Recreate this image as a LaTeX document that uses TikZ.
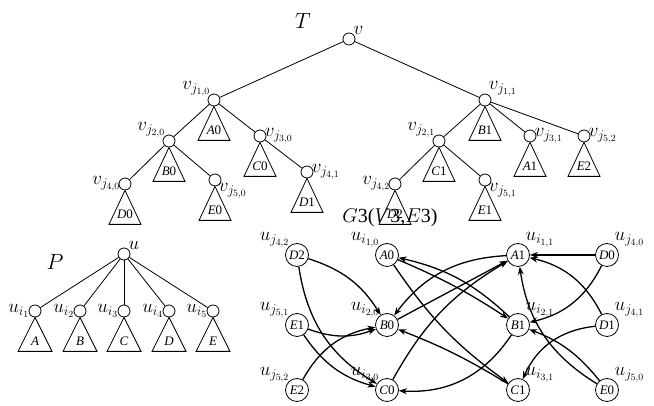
\documentclass[tikz,border=0pt]{standalone}
\usepackage{fix-cm}
\usepackage{fontspec}
\setmainfont{Liberation Serif}
\usetikzlibrary{arrows.meta,calc}

% small subtree under a tree vertex
\newcommand\subtri[3]{%
  \draw (#1.south) -- ++(-#3,-34) -- ++(2*#3,0) -- cycle;
  \node[font=\fontsize{13}{13}\selectfont] at ($(#1.south)+(0,-24)$) {#2};}

\begin{document}
\begin{tikzpicture}
  [
    x=1pt, y=1pt,
    vert/.style={circle, draw, thick, minimum size=12pt, inner sep=0pt},
    gvert/.style={circle, draw, thick, minimum size=23pt, inner sep=0pt, font=\fontsize{13}{13}\selectfont},
    every label/.style={font=\fontsize{19}{19}\selectfont, inner sep=1pt},
    arc/.style={-{Stealth[length=8pt,width=6pt]}, line width=1.3pt}
  ]
  \useasboundingbox (0,0) rectangle (654,406);
  \tikzset{every path/.style={thick}}
  % tree T
  \node[font=\fontsize{22}{22}\selectfont] at (303,385) {$T$};
  \node[vert, label={[label distance=-2pt]above right:$v$}] (v) at (349,367) {};
  \node[vert, label={[label distance=-3pt]above left:$v_{j_{1,0}}$}] (vj10) at (214,306) {};
  \node[vert, label={[label distance=-3pt]above right:$v_{j_{1,1}}$}] (vj11) at (485,306) {};
  \node[vert, label={[label distance=-3pt]above left:$v_{j_{2,0}}$}] (vj20) at (169,265) {};
  \node[vert, label={[label distance=-3pt]right:$v_{j_{3,0}}$}] (vj30) at (260,270) {};
  \node[vert, label={[label distance=-3pt]above left:$v_{j_{2,1}}$}] (vj21) at (439,265) {};
  \node[vert, label={[label distance=-3pt]right:$v_{j_{3,1}}$}] (vj31) at (530,270) {};
  \node[vert, label={[label distance=-3pt]right:$v_{j_{5,2}}$}] (vj52) at (584,270) {};
  \node[vert, label={[label distance=-3pt]left:$v_{j_{4,0}}$}] (vj40) at (125,222) {};
  \node[vert, label={[label distance=-3pt]below right:$v_{j_{5,0}}$}] (vj50) at (215,226) {};
  \node[vert, label={[label distance=-3pt]right:$v_{j_{4,1}}$}] (vj41) at (307,234) {};
  \node[vert, label={[label distance=-3pt]left:$v_{j_{4,2}}$}] (vj42) at (395,222) {};
  \node[vert, label={[label distance=-3pt]below right:$v_{j_{5,1}}$}] (vj51) at (485,226) {};
  \foreach \a/\b in {v/vj10, v/vj11, vj10/vj20, vj10/vj30, vj20/vj40, vj20/vj50,
                     vj30/vj41, vj11/vj21, vj11/vj31, vj11/vj52, vj21/vj42, vj21/vj51}
    \draw (\a) -- (\b);
  \subtri{vj10}{\textit{A}0}{16}
  \subtri{vj20}{\textit{B}0}{16}
  \subtri{vj30}{\textit{C}0}{16}
  \subtri{vj40}{\textit{D}0}{16}
  \subtri{vj50}{\textit{E}0}{16}
  \subtri{vj41}{\textit{D}1}{16}
  \subtri{vj11}{\textit{B}1}{16}
  \subtri{vj21}{\textit{C}1}{16}
  \subtri{vj31}{\textit{A}1}{16}
  \subtri{vj52}{\textit{E}2}{16}
  \subtri{vj42}{\textit{D}2}{16}
  \subtri{vj51}{\textit{E}1}{16}
  % pattern P
  \node[font=\fontsize{22}{22}\selectfont] at (55,144) {$P$};
  \node[vert, label={[label distance=-2pt]above right:$u$}] (u) at (124,152) {};
  \foreach \i/\x/\t in {1/35/A, 2/80/B, 3/124/C, 4/169/D, 5/213/E} {
    \node[vert, label={[label distance=-2pt]left:$u_{i_{\i}}$}] (ui\i) at (\x,95) {};
    \draw (u) -- (ui\i);
    \subtri{ui\i}{\textit{\t}}{17}
  }
  % graph G3
  \node[font=\fontsize{20}{20}\selectfont] at (390,188) {$G$3($V$3,$E$3)};
  \node[gvert, label={[label distance=-3pt]above left:$u_{j_{4,2}}$}] (D2) at (297,151) {\textit{D}2};
  \node[gvert, label={[label distance=-3pt]above left:$u_{i_{1,0}}$}] (A0) at (387,151) {\textit{A}0};
  \node[gvert, label={[label distance=-3pt]above right:$u_{i_{1,1}}$}] (A1) at (518,151) {\textit{A}1};
  \node[gvert, label={[label distance=-3pt]above right:$u_{j_{4,0}}$}] (D0) at (607,151) {\textit{D}0};
  \node[gvert, label={[label distance=-3pt]above left:$u_{j_{5,1}}$}] (E1) at (297,81) {\textit{E}1};
  \node[gvert, label={[label distance=-3pt]above left:$u_{i_{2,0}}$}] (B0) at (387,81) {\textit{B}0};
  \node[gvert, label={[label distance=-3pt]above right:$u_{i_{2,1}}$}] (B1) at (518,81) {\textit{B}1};
  \node[gvert, label={[label distance=-3pt]above right:$u_{j_{4,1}}$}] (D1) at (607,81) {\textit{D}1};
  \node[gvert, label={[label distance=-3pt]above left:$u_{j_{5,2}}$}] (E2) at (297,16) {\textit{E}2};
  \node[gvert, label={[label distance=-3pt]above left:$u_{i_{3,0}}$}] (C0) at (387,16) {\textit{C}0};
  \node[gvert, label={[label distance=-3pt]above right:$u_{i_{3,1}}$}] (C1) at (518,16) {\textit{C}1};
  \node[gvert, label={[label distance=-3pt]above right:$u_{j_{5,0}}$}] (E0) at (607,16) {\textit{E}0};
  \draw[arc] (D2) to[bend left=20] (B0);
  \draw[arc] (D2) to[bend right=25] (C0);
  \draw[arc] (E1) to[bend right=20] (B0);
  \draw[arc] (E1) to[bend right=20] (C0);
  \draw[arc] (E2) to[bend left=25] (B0);
  \draw[arc] (A0) to[bend left=5] (B1);
  \draw[arc] (A0) to[bend right=10] (C1);
  \draw[arc] (A1) to[bend right=25] (B0);
  \draw[arc] (B1) to[bend right=15] (A0);
  \draw[arc] (B0) -- (A1);
  \draw[arc] (C0) to[bend left=15] (A1);
  \draw[arc] (B1) to[bend left=30] (C0);
  \draw[arc] (C1) to[bend right=5] (B0);
  \draw[arc] (D0) -- (A1);
  \draw[arc] (D0) to[bend left=25] (B1);
  \draw[arc] (D1) to[bend right=25] (A1);
  \draw[arc] (D1) to[bend right=30] (C1);
  \draw[arc] (E0) to[bend left=25] (A1);
  \draw[arc] (E0) to[bend right=15] (B1);
\end{tikzpicture}
\end{document}
